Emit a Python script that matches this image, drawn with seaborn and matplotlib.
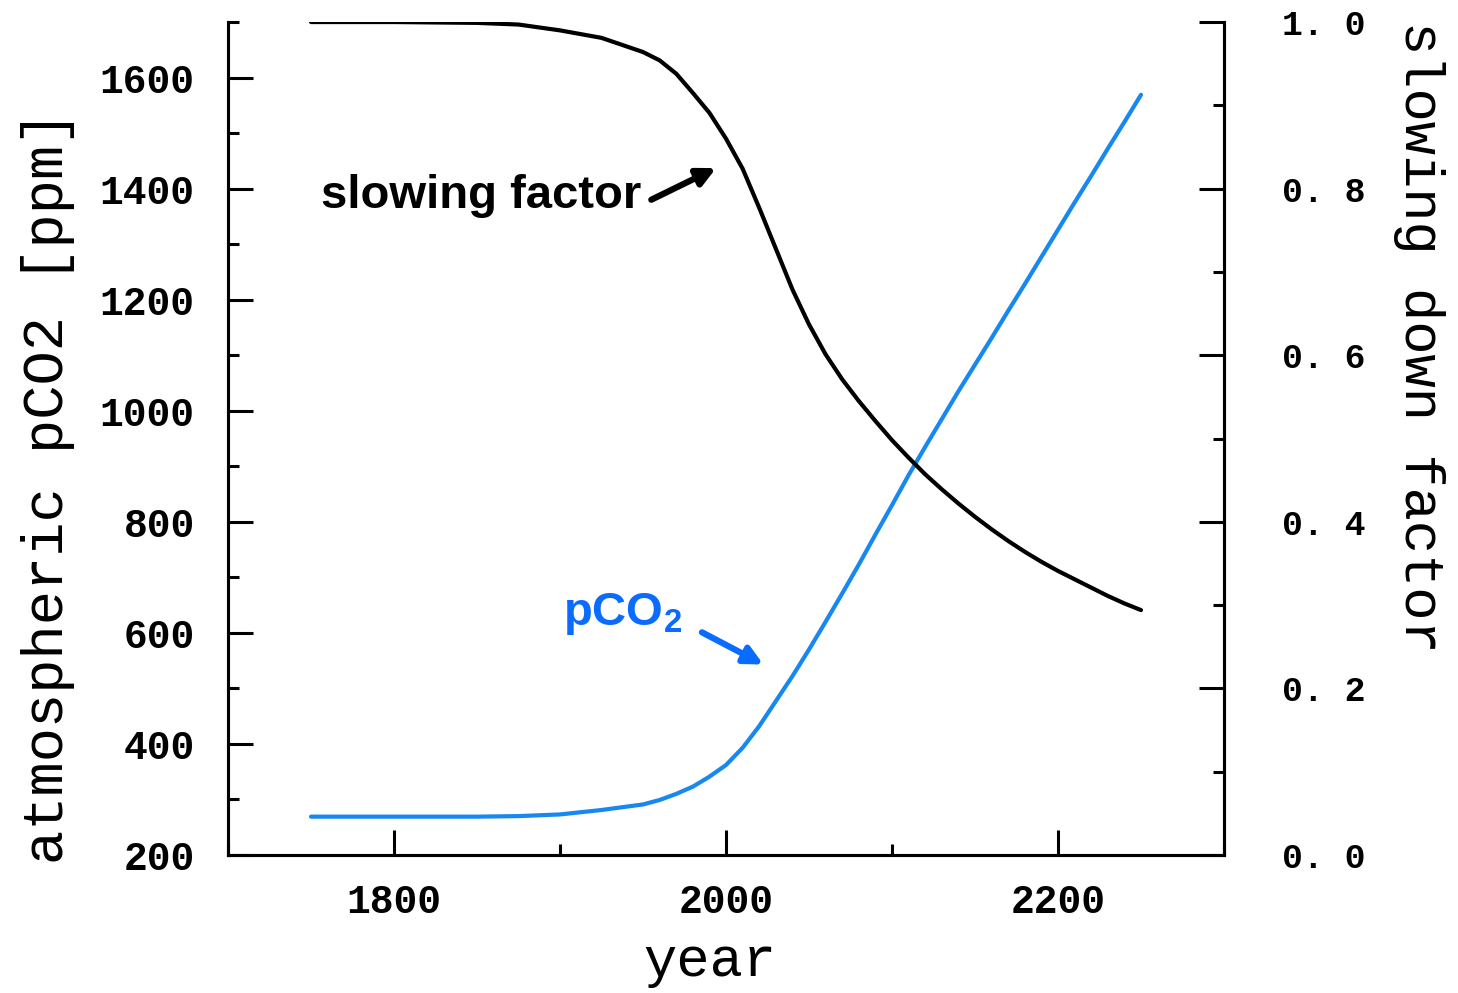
import numpy as np
import pandas as pd
import matplotlib
matplotlib.use("Agg")
import matplotlib.pyplot as plt
import seaborn as sns

# Atmospheric pCO2 (ppm) and the slowing-down factor over time
years = [1750, 1800, 1850, 1875, 1900, 1925, 1950, 1960, 1970, 1980, 1990,
         2000, 2010, 2020, 2030, 2040, 2050, 2060, 2070, 2080, 2090,
         2100, 2110, 2120, 2130, 2140, 2150, 2160, 2170, 2180, 2190,
         2200, 2210, 2220, 2230, 2240, 2250]
pco2 = [269, 269, 269, 270, 273, 281, 291, 299, 310, 323, 341,
        362, 393, 432, 477, 522, 570, 620, 671, 723, 777,
        830, 884, 935, 985, 1035, 1083, 1131, 1180, 1228, 1277,
        1326, 1375, 1423, 1472, 1520, 1569]
slowing = [1.0, 1.0, 0.999, 0.997, 0.990, 0.981, 0.964, 0.954, 0.938, 0.915, 0.891,
           0.860, 0.824, 0.777, 0.728, 0.679, 0.637, 0.601, 0.571, 0.545, 0.521,
           0.498, 0.477, 0.457, 0.439, 0.422, 0.406, 0.391, 0.377, 0.364, 0.352,
           0.341, 0.331, 0.321, 0.311, 0.302, 0.294]

right_ticks = [0.0, 0.2, 0.4, 0.6, 0.8, 1.0]
right_ticklabels = ["0. 0", "0. 2", "0. 4", "0. 6", "0. 8", "1. 0"]
left_ticks = [200, 400, 600, 800, 1000, 1200, 1400, 1600]
x_ticks = [1800, 2000, 2200]

df = pd.DataFrame({"year": years, "pco2": pco2, "slowing": slowing})

sns.set_theme(style="ticks")
plt.rcParams.update({
    "text.color": "black",
    "axes.labelcolor": "black",
    "xtick.color": "black",
    "ytick.color": "black",
    "mathtext.fontset": "custom",
    "mathtext.rm": "Liberation Sans:bold",
    "mathtext.bf": "Liberation Sans:bold",
})

BLUE_LINE = "#1788f0"
BLUE_TEXT = "#0a6cff"
MONO = "Liberation Mono"

fig = plt.figure(figsize=(14.58, 9.93), dpi=100)
ax = fig.add_axes([0.1564, 0.1390, 0.6831, 0.8388])
ax2 = ax.twinx()

sns.lineplot(data=df, x="year", y="pco2", ax=ax, color=BLUE_LINE, lw=3.0)
sns.lineplot(data=df, x="year", y="slowing", ax=ax2, color="black", lw=3.0)

ax.set_xlim(1700, 2300)
ax.set_ylim(200, 1700)
ax2.set_ylim(0, 1.0)

ax.set_xticks(x_ticks)
ax.set_xticks([1700, 1900, 2100, 2300], minor=True)
ax.set_yticks(left_ticks)
ax.set_yticks(np.arange(300, 1701, 200), minor=True)
ax2.set_yticks(right_ticks)
ax2.set_yticklabels(right_ticklabels)
ax2.set_yticks([0.1, 0.3, 0.5, 0.7, 0.9], minor=True)

for a in (ax, ax2):
    a.spines["top"].set_visible(False)
    for s in ("left", "right", "bottom"):
        a.spines[s].set_linewidth(2.2)
        a.spines[s].set_color("black")
    a.tick_params(which="major", direction="in", length=18, width=2.2, color="black")
    a.tick_params(which="minor", direction="in", length=8, width=2.2, color="black")

ax.tick_params(axis="y", which="both", right=False)
ax.tick_params(axis="x", which="both", top=False)
ax.tick_params(axis="y", which="major", pad=24)
ax.tick_params(axis="x", which="major", pad=20)
ax2.tick_params(axis="y", which="major", pad=42)

for lab in ax.get_xticklabels() + ax.get_yticklabels():
    lab.set_fontfamily(MONO)
    lab.set_fontweight("bold")
    lab.set_fontsize(28.5)
    lab.set_color("black")
for lab in ax2.get_yticklabels():
    lab.set_fontfamily(MONO)
    lab.set_fontweight("bold")
    lab.set_fontsize(25)
    lab.set_color("black")

ax.set_xlabel("year", fontfamily=MONO, fontsize=40, color="black")
ax.xaxis.set_label_coords(0.484, -0.128)
ax.xaxis.label.set_va("center")

ax.set_ylabel("atmospheric pCO2 [ppm]", fontfamily=MONO, fontsize=41, color="black")
ax.yaxis.set_label_coords(-0.181, 0.442)
ax.yaxis.label.set_va("center")

ax2.set_ylabel("slowing down factor", fontfamily=MONO, fontsize=40, rotation=270,
               color="black")
ax2.yaxis.set_label_coords(1.196, 0.622)
ax2.yaxis.label.set_va("center")

# Curve annotations
ax.text(1756, 1365, "slowing factor", fontfamily="Liberation Sans",
        fontweight="bold", fontsize=34, color="black", va="baseline", ha="left")
ax.annotate("", xy=(1994, 1437), xytext=(1955, 1380),
            arrowprops=dict(arrowstyle="-|>,head_length=0.9,head_width=0.45",
                            lw=4.5, color="black", shrinkA=0, shrinkB=0))

ax.text(1901.5, 615, r"pCO$_{\mathbf{2}}$", fontfamily="Liberation Sans",
        fontweight="bold", fontsize=34, color=BLUE_TEXT, va="baseline", ha="left")
ax.annotate("", xy=(2022.5, 543), xytext=(1985.5, 601),
            arrowprops=dict(arrowstyle="-|>,head_length=0.9,head_width=0.45",
                            lw=4.5, color=BLUE_TEXT, shrinkA=0, shrinkB=0))

fig.savefig("out.png", dpi=100)
